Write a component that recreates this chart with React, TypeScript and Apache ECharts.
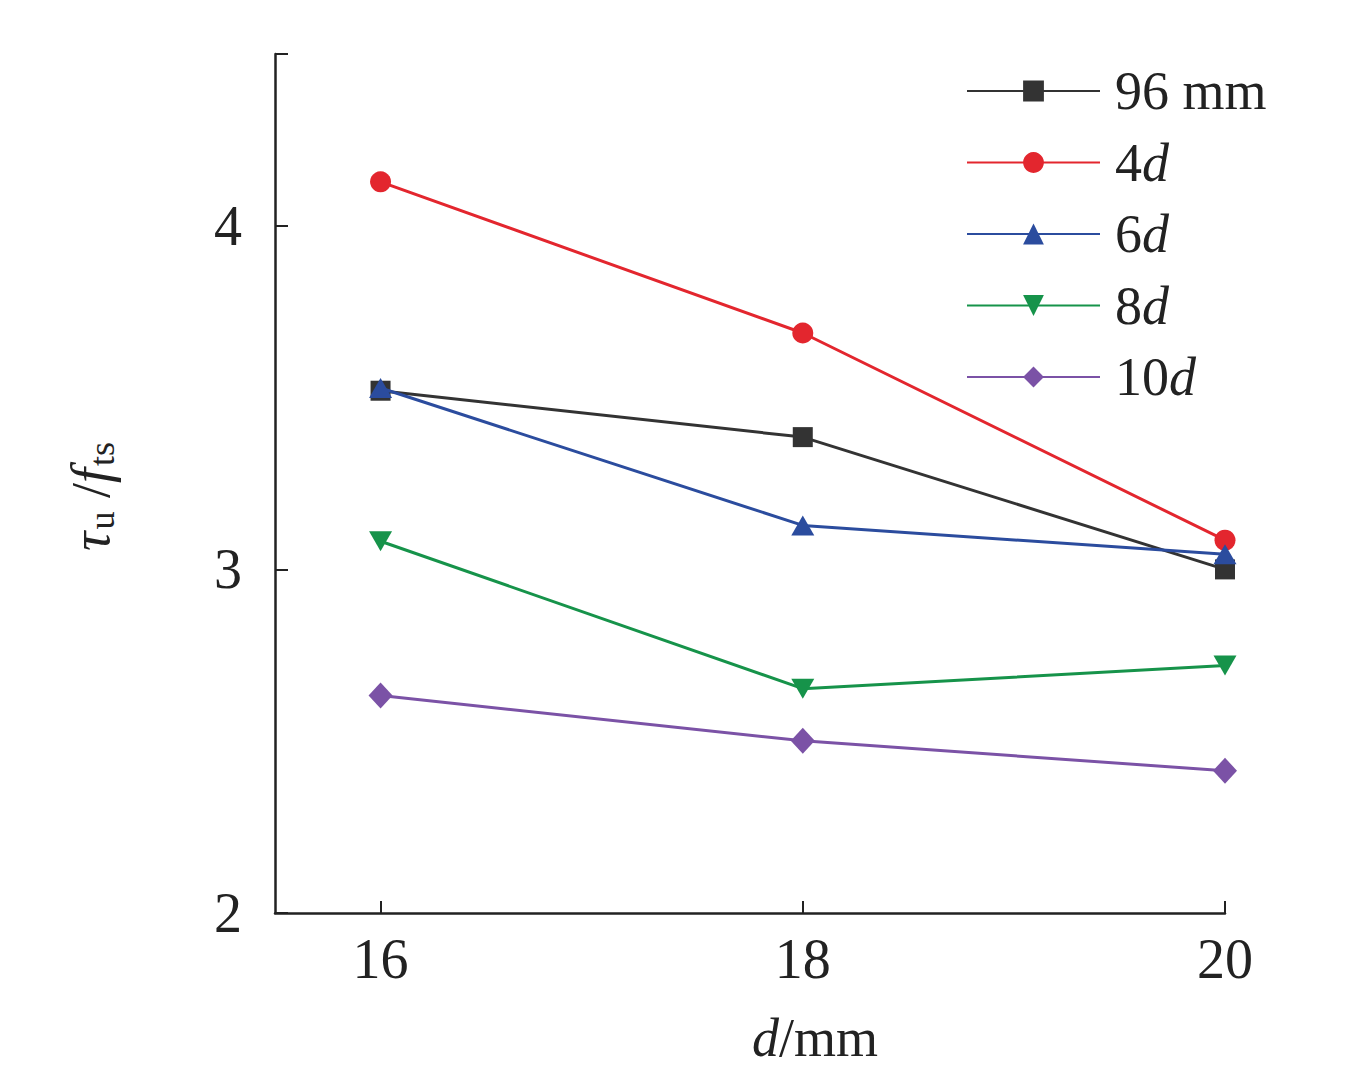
import React, { useEffect, useRef } from "react";
import * as echarts from "echarts";

const xValues = [16, 18, 20];
const seriesNames = ["96 mm", "4d", "6d", "8d", "10d"];
const s96mm = [3.52, 3.385, 3.0];
const s4d = [4.128, 3.688, 3.085];
const s6d = [3.528, 3.128, 3.044];
const s8d = [3.082, 2.653, 2.72];
const s10d = [2.633, 2.501, 2.414];
const xTicks = [16, 18, 20];
const yTicks = [2, 3, 4, 4.5];
const yLabels = [2, 3, 4];

const FONT = "'Liberation Serif', 'Times New Roman', serif";
const colors = ["#333333", "#e3262e", "#2b4c9e", "#16934a", "#7b52a6"];
const symbols = [
  "rect",
  "circle",
  "triangle",
  "path://M0,0 L10,0 L5,9 Z",
  "diamond",
];
const symbolSizes: any[] = [20, 21, [23, 20], [23, 20], [24, 26]];

export default function App() {
  const ref = useRef<HTMLDivElement>(null);
  useEffect(() => {
    if (!ref.current) return;
    const chart = echarts.init(ref.current, undefined, { renderer: "svg" });
    const data = [s96mm, s4d, s6d, s8d, s10d];
    const series = seriesNames.map((name, i) => ({
      name,
      type: "line",
      data: xValues.map((x, j) => [x, data[i][j]]),
      symbol: symbols[i],
      symbolSize: symbolSizes[i],
      lineStyle: { color: colors[i], width: 3 },
      itemStyle: { color: colors[i] },
      z: 2 + i,
    }));
    chart.setOption({
      animation: false,
      backgroundColor: "#ffffff",
      textStyle: { fontFamily: FONT },
      grid: { left: 275, right: 139, top: 54, bottom: 164, containLabel: false },
      legend: {
        orient: "vertical",
        left: 966,
        top: 64,
        padding: 0,
        itemWidth: 133,
        itemHeight: 26,
        itemGap: 17.5,
        data: seriesNames,
        formatter: (name: string) => {
          if (name.endsWith("d")) return `{n|${name.slice(0, -1)}}{i|d}`;
          return `{n|${name}}`;
        },
        textStyle: {
          padding: [0, 0, 0, 10],
          rich: {
            n: { fontFamily: FONT, fontSize: 54, color: "#222", lineHeight: 56 },
            i: {
              fontFamily: FONT,
              fontSize: 54,
              fontStyle: "italic",
              color: "#222",
              lineHeight: 56,
            },
          },
        },
      },
      xAxis: {
        type: "value",
        min: 15.5,
        max: 20,
        name: "{i|d}{n|/mm}",
        nameLocation: "middle",
        nameGap: 98,
        nameTextStyle: {
          padding: [0, 0, 0, 130],
          rich: {
            i: { fontFamily: FONT, fontSize: 54, fontStyle: "italic", color: "#222" },
            n: { fontFamily: FONT, fontSize: 54, color: "#222" },
          },
        },
        axisLine: { show: true, lineStyle: { color: "#222", width: 2.5 } },
        axisTick: {
          show: true,
          inside: true,
          length: 12,
          customValues: xTicks,
          lineStyle: { color: "#222", width: 2 },
        },
        axisLabel: {
          customValues: xTicks,
          fontFamily: FONT,
          fontSize: 56,
          color: "#222",
          margin: 18,
        },
        splitLine: { show: false },
      },
      yAxis: {
        type: "value",
        min: 2,
        max: 4.5,
        name: "{i|τ}{s|u}{n| /}{i|f}{s|ts}",
        nameLocation: "middle",
        nameRotate: 90,
        nameGap: 155,
        nameTextStyle: {
          padding: [0, 26, 0, 0],
          rich: {
            i: { fontFamily: FONT, fontSize: 54, fontStyle: "italic", color: "#222" },
            n: { fontFamily: FONT, fontSize: 54, color: "#222" },
            s: {
              fontFamily: FONT,
              fontSize: 36,
              color: "#222",
              padding: [22, 0, 0, 2],
            },
          },
        },
        axisLine: { show: true, lineStyle: { color: "#222", width: 2.5 } },
        axisTick: {
          show: true,
          inside: true,
          length: 13,
          customValues: yTicks,
          lineStyle: { color: "#222", width: 2 },
        },
        axisLabel: {
          customValues: yLabels,
          fontFamily: FONT,
          fontSize: 56,
          color: "#222",
          margin: 33,
        },
        splitLine: { show: false },
      },
      series,
    });
    return () => chart.dispose();
  }, []);
  return (
    <div
      ref={ref}
      style={{ position: "fixed", left: 0, top: 0, width: 1364, height: 1077 }}
    />
  );
}
